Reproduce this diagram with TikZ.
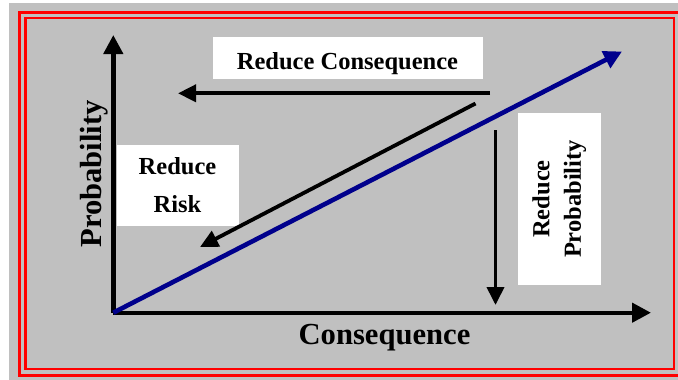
\documentclass[tikz,border=0pt]{standalone}
\usepackage{fontspec}
\setmainfont{Liberation Serif}
\usetikzlibrary{arrows.meta}
\definecolor{bggray}{RGB}{192,192,192}
\definecolor{navyline}{RGB}{0,0,140}
\definecolor{framered}{RGB}{255,0,0}
\begin{document}
\begin{tikzpicture}[x=1pt,y=-1pt,
  textbox/.style={fill=white,draw=none,inner sep=0pt,align=center,
    font=\fontsize{24.5}{37.5}\selectfont\bfseries},
  axislabel/.style={inner sep=0pt,font=\fontsize{30.6}{36}\selectfont\bfseries},
  axisline/.style={line width=4.4pt,-{Triangle[length=19pt,width=19pt]}},
  blackarrow/.style={line width=3.8pt,-{Triangle[length=18pt,width=17pt]}},
  bluearrow/.style={navyline,line width=4.6pt,-{Triangle[length=18pt,width=18pt]}}]
\useasboundingbox (0,0) rectangle (678,380);
\clip (0,0) rectangle (678,380);
\fill[white] (0,0) rectangle (678,380);
\fill[bggray] (9,3) rectangle (690,390);
% frames
\draw[framered,line width=2.8pt] (19.5,12.3) rectangle (682,375.2);
\draw[framered,line width=2.4pt] (25.3,18.2) rectangle (674,369.1);
% coordinates
\coordinate (O) at (113.3,312.7);
\coordinate (Ytip) at (113.3,35);
\coordinate (Xtip) at (651,312.7);
\coordinate (Btip) at (622,51.5);
\coordinate (RCs) at (490,93.3);
\coordinate (RCe) at (178,93.3);
\coordinate (RPs) at (495.5,130);
\coordinate (RPe) at (495.5,305);
\coordinate (RRs) at (475.5,103.5);
\coordinate (RRe) at (200,247);
% boxes
\node[textbox,minimum width=270pt,minimum height=42pt,text height=27pt,text depth=3pt] (rc) at (347.5,57.5) {Reduce Consequence};
\node[textbox,minimum width=122pt,minimum height=81pt] (rr) at (177.5,185.5) {\raisebox{1pt}{Reduce}\\\raisebox{1pt}{Risk}};
\node[textbox,rotate=90,minimum width=172pt,minimum height=82.5pt,font=\fontsize{24.5}{31.5}\selectfont\bfseries] (rp) at (559.3,199) {Reduce\\Probability};
% labels
\node[axislabel] (xl) at (384.5,338) {Consequence};
\node[axislabel,rotate=90] (yl) at (94,174) {Probability};
% arrows
\draw[blackarrow] (RCs) -- (RCe);
\draw[blackarrow] (RPs) -- (RPe);
\draw[blackarrow] (RRs) -- (RRe);
\draw[axisline] (O) -- (Ytip);
\draw[axisline] (O) -- (Xtip);
\draw[bluearrow] (O) -- (Btip);
\end{tikzpicture}
\end{document}
